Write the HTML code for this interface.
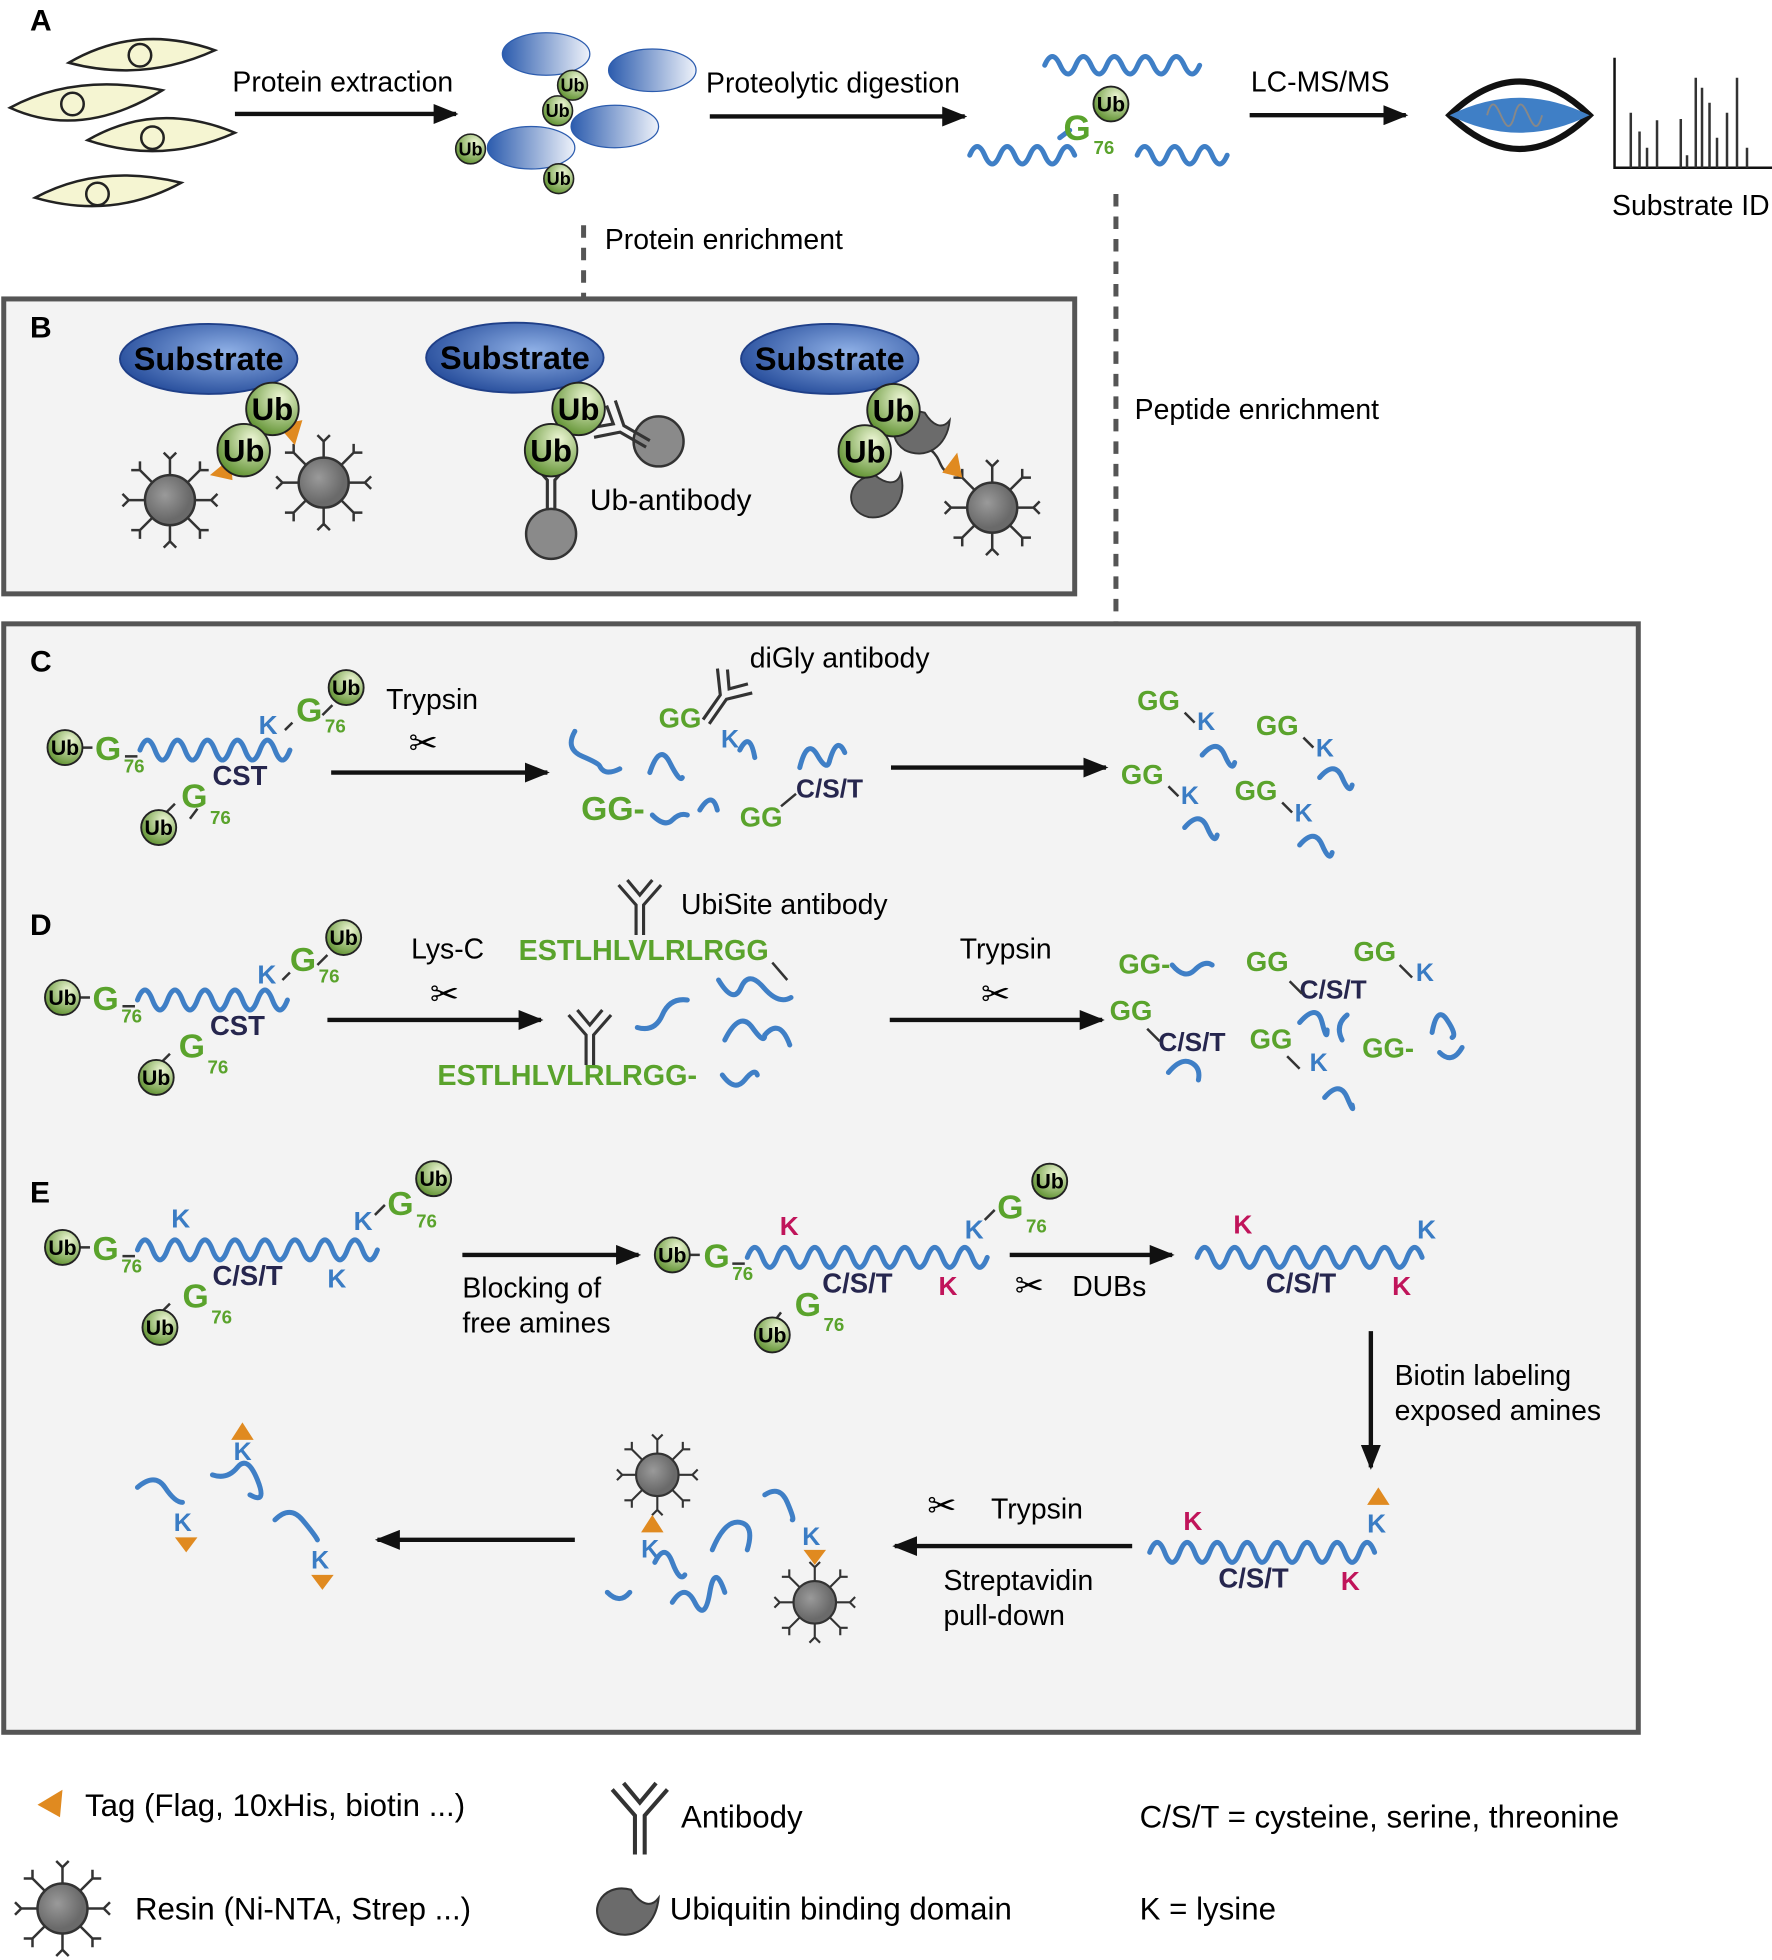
<!DOCTYPE html>
<html><head><meta charset="utf-8"><style>
html,body{margin:0;padding:0;background:#fff}
svg{display:block}
text{font-family:"Liberation Sans",Arial,sans-serif}
.b{font-weight:bold}
.g{fill:#5aa32c;font-weight:bold}
.k{fill:#3a7cc4;font-weight:bold}
.m{fill:#c0145a;font-weight:bold}
.n{fill:#26264e;font-weight:bold}
.w{fill:none;stroke:#3f7fc6;stroke-width:4;stroke-linecap:round}
.ln{stroke:#111;stroke-width:3.5}
.t{font-size:22.7px}
.lg{font-size:25px}
</style></head><body>
<svg width="1772" height="1960" viewBox="0 0 1418 1568" xmlns="http://www.w3.org/2000/svg">
<defs>
<radialGradient id="ubg" cx="65%" cy="30%" r="75%"><stop offset="0" stop-color="#eef7d6"/><stop offset="1" stop-color="#5f9130"/></radialGradient>
<linearGradient id="blg" x1="0" x2="1"><stop offset="0" stop-color="#2c5cae"/><stop offset="1" stop-color="#eef2fa"/></linearGradient>
<radialGradient id="subg" cx="60%" cy="40%" r="70%"><stop offset="0" stop-color="#8fb0e6"/><stop offset="1" stop-color="#1f4696"/></radialGradient>
<radialGradient id="beadg" cx="40%" cy="40%"><stop offset="0" stop-color="#9a9a9a"/><stop offset="1" stop-color="#6a6a6a"/></radialGradient>
<marker id="ar" markerWidth="20" markerHeight="16" refX="18" refY="8" orient="auto" markerUnits="userSpaceOnUse"><path d="M0 0 L20 8 L0 16 z" fill="#111"/></marker>
<g id="ubS"><circle r="14" fill="url(#ubg)" stroke="#222" stroke-width="1.5"/><text y="6" text-anchor="middle" font-size="17" class="b">Ub</text></g>
<g id="ubL"><circle r="21" fill="url(#ubg)" stroke="#222" stroke-width="1.5"/><text y="9" text-anchor="middle" font-size="25" class="b">Ub</text></g>
<g id="bead" stroke="#333" stroke-width="2" fill="none">
<circle r="20" fill="url(#beadg)"/>
<path d="M20 0H33M33 0L38-5M33 0L38 5M14 14L24 24M24 24L24 31M24 24L31 24M0 20V33M0 33L-5 38M0 33L5 38M-14 14L-24 24M-24 24L-24 31M-24 24L-31 24M-20 0H-33M-33 0L-38-5M-33 0L-38 5M-14-14L-24-24M-24-24L-24-31M-24-24L-31-24M0-20V-33M0-33L-5-38M0-33L5-38M14-14L24-24M24-24L24-31M24-24L31-24"/>
</g>
<g id="ab" stroke="#333" stroke-width="2.5" fill="none"><path d="M-3 26V2L-17-14M3 26V2L17-14M-10-18L0-6L10-18"/></g>
<g id="ubd"><path d="M0 0c-22-6-34 18-16 30c16 8 34-2 36-24c-6 8-14 4-20-6z" fill="#6b6b6b" stroke="#333" stroke-width="1.5"/></g>
</defs>

<!-- Panel A -->
<text x="24" y="24" font-size="24" class="b">A</text>
<g fill="#f5f5d2" stroke="#222" stroke-width="2">
<path d="M55 50Q110 18 172 40Q115 66 55 50z"/><circle cx="112" cy="44" r="9"/>
<path d="M8 86Q60 58 130 72Q65 112 8 86z"/><circle cx="58" cy="83" r="9"/>
<path d="M70 112Q125 80 188 106Q130 132 70 112z"/><circle cx="122" cy="110" r="9"/>
<path d="M28 158Q80 130 145 146Q90 176 28 158z"/><circle cx="78" cy="155" r="9"/>
</g>
<line x1="188" y1="91" x2="365" y2="91" class="ln" marker-end="url(#ar)"/>
<text x="186" y="73" class="t">Protein extraction</text>
<g fill="url(#blg)" stroke="#2c5cae" stroke-width="1"><ellipse cx="437" cy="43" rx="35" ry="17"/><ellipse cx="522" cy="56" rx="35" ry="17"/><ellipse cx="425" cy="118" rx="35" ry="17"/><ellipse cx="492" cy="101" rx="35" ry="17"/></g>
<g transform="scale(0.85)"><use href="#ubS" x="539" y="80"/><use href="#ubS" x="525" y="104"/><use href="#ubS" x="443" y="140"/><use href="#ubS" x="526" y="168"/></g>
<line x1="568" y1="93" x2="772" y2="93" class="ln" marker-end="url(#ar)"/>
<text x="565" y="74" class="t">Proteolytic digestion</text>
<path class="w" d="M836 52q6-14 12.4 0t12.4 0t12.4 0t12.4 0t12.4 0t12.4 0t12.4 0t12.4 0t12.4 0t12.4 0"/>
<path class="w" d="M776 124q6-14 12 0t12 0t12 0t12 0t12 0t12 0t12 0"/>
<path class="w" d="M910 124q6-14 12 0t12 0t12 0t12 0t12 0t12 0"/>
<path class="w" d="M848 110L856 104"/>
<text x="851" y="112" font-size="28" class="g">G</text><text x="875" y="123" font-size="15" class="g">76</text>
<use href="#ubS" x="889" y="83"/>
<line x1="1000" y1="92" x2="1125" y2="92" class="ln" marker-end="url(#ar)"/>
<text x="1001" y="73" class="t">LC-MS/MS</text>
<path d="M1160 92Q1216 38 1272 92Q1216 146 1160 92z" fill="none" stroke="#111" stroke-width="5"/>
<path d="M1160 92Q1216 64 1272 92Q1216 120 1160 92z" fill="#3f7fc6"/>
<path d="M1190 92c8-30 14 30 22 0s14 30 22 0" fill="none" stroke="#888" stroke-width="1.5"/>
<path d="M1292 46V134H1418" fill="none" stroke="#111" stroke-width="2"/>
<g stroke="#333" stroke-width="2"><path d="M1305 134V90M1312 134V105M1318 134V118M1326 134V96M1345 134V95M1350 134V124M1357 134V62M1362 134V70M1368 134V82M1374 134V110M1382 134V90M1390 134V62M1398 134V118"/></g>
<text x="1290" y="172" class="t">Substrate ID</text>
<path d="M467 180V239M893 155V499" stroke="#555" stroke-width="4" stroke-dasharray="10,8"/>
<text x="484" y="199" class="t">Protein enrichment</text>
<text x="908" y="335" class="t">Peptide enrichment</text>

<!-- Panel B -->
<rect x="3" y="239" width="857" height="236" fill="#f3f3f3" stroke="#555" stroke-width="4"/>
<text x="24" y="270" font-size="24" class="b">B</text>
<g fill="url(#subg)" stroke="#1f3f88" stroke-width="1.5"><ellipse cx="167" cy="287" rx="71" ry="28"/><ellipse cx="412" cy="286" rx="71" ry="28"/><ellipse cx="664" cy="287" rx="71" ry="28"/></g>
<g font-size="26" class="b" text-anchor="middle"><text x="167" y="296">Substrate</text><text x="412" y="295">Substrate</text><text x="664" y="296">Substrate</text></g>
<use href="#bead" x="136" y="400"/><use href="#bead" x="259" y="386"/><use href="#bead" x="794" y="406"/>
<circle cx="527" cy="353" r="20" fill="#8a8a8a" stroke="#333" stroke-width="2"/>
<circle cx="441" cy="427" r="20" fill="#8a8a8a" stroke="#333" stroke-width="2"/>
<use href="#ab" x="441" y="382"/>
<use href="#ab" transform="translate(496 342) rotate(-60)"/>
<use href="#ubd" x="740" y="330"/><use href="#ubd" transform="translate(700 380) rotate(-20)"/>
<path d="M745 360c10 8 6 20 18 16" fill="none" stroke="#333" stroke-width="2"/>
<g fill="#e08a20"><polygon points="222,340 242,336 236,356"/><polygon points="168,380 185,366 186,384"/><polygon points="754,378 766,362 770,382"/></g>
<use href="#ubL" x="218" y="327"/><use href="#ubL" x="195" y="360"/>
<use href="#ubL" x="463" y="327"/><use href="#ubL" x="441" y="360"/>
<use href="#ubL" x="715" y="328"/><use href="#ubL" x="692" y="361"/>
<text x="472" y="408" font-size="24">Ub-antibody</text>

<!-- Box C-E -->
<rect x="3" y="499" width="1308" height="887" fill="#f3f3f3" stroke="#555" stroke-width="4"/>
<g stroke="#333" stroke-width="2">
<path d="M66 598h8M100 605h10M64 798h8M98 805h10M64 998h8M98 1005h10M552 1004h8M586 1011h10M140 643l-8 8M158 647l-6 8M228 584l6-6M258 572l8-8M136 843l-8 8M226 784l6-6M254 772l8-8M136 1043l-8 8M300 972l8-8M625 1050l-6 8M788 976l8-8"/>
</g>

<!-- C -->
<text x="24" y="537" font-size="24" class="b">C</text>
<use href="#ubS" x="52" y="598"/>
<text x="76" y="608" font-size="27" class="g">G</text><text x="99" y="618" font-size="15" class="g">76</text>
<path class="w" d="M112 600q6-16 12 0t12 0t12 0t12 0t12 0t12 0t12 0t12 0t12 0t12 0"/>
<text x="207" y="587" font-size="21" class="k">K</text>
<text x="237" y="577" font-size="27" class="g">G</text><text x="260" y="586" font-size="15" class="g">76</text>
<use href="#ubS" x="277" y="550"/>
<text x="170" y="628" font-size="22" class="n">CST</text>
<text x="145" y="646" font-size="27" class="g">G</text><text x="168" y="659" font-size="15" class="g">76</text>
<use href="#ubS" x="127" y="662"/>
<text x="309" y="567" class="t">Trypsin</text>
<text x="327" y="604" font-size="28">✂</text>
<line x1="265" y1="618" x2="438" y2="618" class="ln" marker-end="url(#ar)"/>
<path class="w" d="M460 585q-8 14 6 20t14 8q4 8 16 2M520 618q8-24 16-8t10 12M592 600q8-16 12 6M640 614q6-24 14-10t10 4q6-20 12-6M522 652q10 10 16 4t12-4M560 648q10-16 14 0"/>
<text x="527" y="582" font-size="22" class="g">GG</text><text x="577" y="598" font-size="20" class="k">K</text>
<use href="#ab" transform="translate(580 556) rotate(35)"/>
<text x="600" y="534" class="t">diGly antibody</text>
<text x="465" y="656" font-size="27" class="g">GG-</text>
<text x="592" y="661" font-size="22" class="g">GG</text><text x="637" y="638" font-size="21" class="n">C/S/T</text>
<path d="M625 645l12-10" stroke="#333" stroke-width="2"/>
<line x1="713" y1="614" x2="885" y2="614" class="ln" marker-end="url(#ar)"/>
<g font-size="22" class="g"><text x="910" y="568">GG</text><text x="1005" y="588">GG</text><text x="897" y="627">GG</text><text x="988" y="640">GG</text></g>
<g font-size="20" class="k"><text x="958" y="584">K</text><text x="1053" y="605">K</text><text x="945" y="643">K</text><text x="1036" y="657">K</text></g>
<g stroke="#333" stroke-width="2"><path d="M948 570l8 8M1043 590l8 8M935 629l8 8M1026 642l8 8"/></g>
<path class="w" d="M962 604q12-14 18 0t8 6M1056 622q12-14 18 0t8 6M948 662q12-14 18 0t8 6M1040 676q12-14 18 0t8 6"/>

<!-- D -->
<text x="24" y="748" font-size="24" class="b">D</text>
<use href="#ubS" x="50" y="798"/>
<text x="74" y="808" font-size="27" class="g">G</text><text x="97" y="818" font-size="15" class="g">76</text>
<path class="w" d="M110 800q6-16 12 0t12 0t12 0t12 0t12 0t12 0t12 0t12 0t12 0t12 0"/>
<text x="206" y="787" font-size="21" class="k">K</text>
<text x="232" y="777" font-size="27" class="g">G</text><text x="255" y="786" font-size="15" class="g">76</text>
<use href="#ubS" x="275" y="750"/>
<text x="168" y="828" font-size="22" class="n">CST</text>
<text x="143" y="846" font-size="27" class="g">G</text><text x="166" y="859" font-size="15" class="g">76</text>
<use href="#ubS" x="125" y="862"/>
<text x="329" y="767" class="t">Lys-C</text>
<text x="344" y="805" font-size="28">✂</text>
<line x1="262" y1="816" x2="433" y2="816" class="ln" marker-end="url(#ar)"/>
<use href="#ab" x="512" y="722"/>
<text x="545" y="731" class="t">UbiSite antibody</text>
<text x="415" y="768" font-size="23" class="g">ESTLHLVLRLRGG</text>
<path class="w" d="M510 822q14 4 20-10t20-12M575 784q12 20 18 6t18 0t22 8M580 832q12-24 22-10t10 6q12-14 20 8"/>
<path d="M618 770l12 14" stroke="#333" stroke-width="2"/>
<use href="#ab" x="472" y="826"/>
<text x="350" y="868" font-size="23" class="g">ESTLHLVLRLRGG-</text>
<path class="w" d="M578 860q10 14 18 4t10-4"/>
<text x="768" y="767" class="t">Trypsin</text>
<text x="785" y="805" font-size="28">✂</text>
<line x1="712" y1="816" x2="882" y2="816" class="ln" marker-end="url(#ar)"/>
<g font-size="22" class="g"><text x="895" y="779">GG-</text><text x="997" y="777">GG</text><text x="1083" y="769">GG</text><text x="888" y="816">GG</text><text x="1000" y="839">GG</text><text x="1090" y="846">GG-</text></g>
<g font-size="21" class="n"><text x="1040" y="799">C/S/T</text><text x="927" y="841">C/S/T</text></g>
<g font-size="20" class="k"><text x="1133" y="785">K</text><text x="1048" y="857">K</text></g>
<path class="w" d="M938 772q10 12 18 4t14-4M1146 826q4-22 12-10t4 14M1152 842q10 10 18-4M1060 878q12-14 18 0t4 6M1040 818q14-16 18 0t4 6M935 858q10-12 18-8t6 14M1074 832q-6-12 4-20"/>
<path d="M1032 785l10 10M918 823l10 10M1120 772l10 10M1030 845l10 10" stroke="#333" stroke-width="2"/>

<!-- E -->
<text x="24" y="962" font-size="24" class="b">E</text>
<use href="#ubS" x="50" y="998"/>
<text x="74" y="1008" font-size="27" class="g">G</text><text x="97" y="1018" font-size="15" class="g">76</text>
<path class="w" d="M110 1000q6-16 12 0t12 0t12 0t12 0t12 0t12 0t12 0t12 0t12 0t12 0t12 0t12 0t12 0t12 0t12 0t12 0"/>
<text x="137" y="982" font-size="21" class="k">K</text><text x="283" y="984" font-size="21" class="k">K</text>
<text x="310" y="972" font-size="27" class="g">G</text><text x="333" y="982" font-size="15" class="g">76</text>
<use href="#ubS" x="347" y="943"/>
<text x="170" y="1028" font-size="22" class="n">C/S/T</text><text x="262" y="1030" font-size="21" class="k">K</text>
<text x="146" y="1046" font-size="27" class="g">G</text><text x="169" y="1059" font-size="15" class="g">76</text>
<use href="#ubS" x="128" y="1062"/>
<line x1="370" y1="1004" x2="511" y2="1004" class="ln" marker-end="url(#ar)"/>
<text x="370" y="1038" class="t">Blocking of</text><text x="370" y="1066" class="t">free amines</text>
<use href="#ubS" x="538" y="1004"/>
<text x="563" y="1014" font-size="27" class="g">G</text><text x="586" y="1024" font-size="15" class="g">76</text>
<path class="w" d="M598 1006q6-16 12 0t12 0t12 0t12 0t12 0t12 0t12 0t12 0t12 0t12 0t12 0t12 0t12 0t12 0t12 0t12 0"/>
<text x="624" y="988" font-size="21" class="m">K</text><text x="772" y="991" font-size="21" class="k">K</text>
<text x="798" y="975" font-size="27" class="g">G</text><text x="821" y="986" font-size="15" class="g">76</text>
<use href="#ubS" x="840" y="945"/>
<text x="658" y="1034" font-size="22" class="n">C/S/T</text><text x="751" y="1036" font-size="21" class="m">K</text>
<text x="636" y="1053" font-size="27" class="g">G</text><text x="659" y="1065" font-size="15" class="g">76</text>
<use href="#ubS" x="618" y="1068"/>
<line x1="808" y1="1004" x2="938" y2="1004" class="ln" marker-end="url(#ar)"/>
<text x="812" y="1038" font-size="28">✂</text><text x="858" y="1037" class="t">DUBs</text>
<path class="w" d="M958 1006q6-16 12 0t12 0t12 0t12 0t12 0t12 0t12 0t12 0t12 0t12 0t12 0t12 0t12 0t12 0t12 0"/>
<text x="987" y="987" font-size="21" class="m">K</text><text x="1134" y="991" font-size="21" class="k">K</text>
<text x="1013" y="1034" font-size="22" class="n">C/S/T</text><text x="1114" y="1036" font-size="21" class="m">K</text>
<line x1="1097" y1="1065" x2="1097" y2="1174" class="ln" marker-end="url(#ar)"/>
<text x="1116" y="1108" class="t">Biotin labeling</text><text x="1116" y="1136" class="t">exposed amines</text>
<path class="w" d="M920 1242q6-16 12 0t12 0t12 0t12 0t12 0t12 0t12 0t12 0t12 0t12 0t12 0t12 0t12 0t12 0t12 0"/>
<text x="947" y="1224" font-size="21" class="m">K</text><text x="1094" y="1226" font-size="21" class="k">K</text>
<polygon points="1094,1204 1103,1190 1112,1204" fill="#e08a20"/>
<text x="975" y="1270" font-size="22" class="n">C/S/T</text><text x="1073" y="1272" font-size="21" class="m">K</text>
<line x1="906" y1="1237" x2="716" y2="1237" class="ln" marker-end="url(#ar)"/>
<text x="742" y="1214" font-size="28">✂</text><text x="793" y="1215" class="t">Trypsin</text>
<text x="755" y="1272" class="t">Streptavidin</text><text x="755" y="1300" class="t">pull-down</text>
<use href="#bead" transform="translate(526 1180) scale(0.85)"/>
<use href="#bead" transform="translate(652 1282) scale(0.85)"/>
<polygon points="513,1226 522,1212 531,1226" fill="#e08a20"/>
<polygon points="643,1240 661,1240 652,1252" fill="#e08a20"/>
<text x="513" y="1246" font-size="20" class="k">K</text><text x="642" y="1236" font-size="20" class="k">K</text>
<path class="w" d="M524 1250q8-16 14 0t10 10M570 1240q10-24 22-22t6 22M612 1196q12-8 18 6t4 14M486 1274q10 10 18 0M538 1282q10-16 18 0t12-8t12 0"/>
<line x1="460" y1="1232" x2="302" y2="1232" class="ln" marker-end="url(#ar)"/>
<text x="139" y="1225" font-size="20" class="k">K</text><polygon points="140,1230 158,1230 149,1242" fill="#e08a20"/>
<text x="187" y="1168" font-size="20" class="k">K</text><polygon points="185,1152 194,1138 203,1152" fill="#e08a20"/>
<text x="249" y="1255" font-size="20" class="k">K</text><polygon points="249,1260 267,1260 258,1272" fill="#e08a20"/>
<path class="w" d="M110 1190q14-12 22 0t14 12M170 1180q12 4 20-6t16 10t-6 12M220 1216q12-12 22 0t12 16"/>

<!-- Legend -->
<polygon points="30,1444 50,1432 48,1454" fill="#e08a20"/>
<text x="68" y="1453" class="lg">Tag (Flag, 10xHis, biotin ...)</text>
<use href="#bead" x="50" y="1527"/>
<text x="108" y="1536" class="lg">Resin (Ni-NTA, Strep ...)</text>
<use href="#ab" transform="translate(512 1450) scale(1.3)"/>
<text x="545" y="1462" class="lg">Antibody</text>
<use href="#ubd" transform="translate(505 1512) scale(1.1)"/>
<text x="536" y="1536" class="lg">Ubiquitin binding domain</text>
<text x="912" y="1462" class="lg">C/S/T = cysteine, serine, threonine</text>
<text x="912" y="1536" class="lg">K = lysine</text>
</svg>
</body></html>
